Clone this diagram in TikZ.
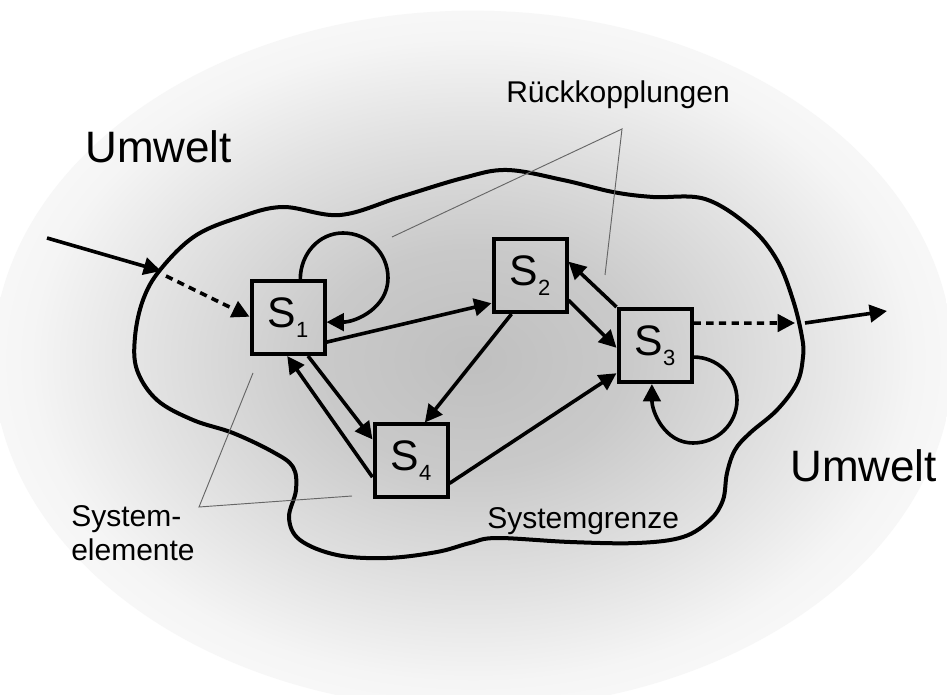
\documentclass[tikz,border=0pt]{standalone}
\usepackage{fontspec}
\setmainfont{Liberation Sans}
\usetikzlibrary{arrows.meta,calc}
\pgfdeclareradialshading{bgshade}{\pgfpoint{0bp}{0bp}}{color(0bp)=(black!25); color(8bp)=(black!21); color(17bp)=(black!11); color(23bp)=(black!4); color(25bp)=(black!3); color(50bp)=(white)}
\newcommand\Sx[1]{{\fontsize{32pt}{32pt}\selectfont S}\raisebox{-7.5pt}{\fontsize{16.5pt}{16.5pt}\selectfont #1}}
\begin{document}
\begin{tikzpicture}[x=0.75pt,y=-0.75pt,
  sbox/.style={draw, line width=3pt, minimum size=54.75pt, inner sep=0pt},
  conn/.style={line width=2.7pt, -{Triangle[length=13pt,width=13pt]}},
  dconn/.style={conn, dash pattern=on 5.5pt off 4pt},
  boundary/.style={line width=3pt},
  note/.style={line width=0.7pt, black!60},
  bigtxt/.style={font=\fontsize{33pt}{33pt}\selectfont, anchor=base west, inner sep=0pt},
  smalltxt/.style={font=\fontsize{22.5pt}{27pt}\selectfont, anchor=base west, inner sep=0pt}]
\useasboundingbox (0,0) rectangle (947,695);
\fill[white] (0,0) rectangle (947,695);
\begin{scope}
\clip (0,0) rectangle (947,695);
\shade[shading=bgshade] (473,360) ellipse [x radius=360pt, y radius=262pt];
\end{scope}

% system boundary
\draw[boundary] plot[smooth cycle, tension=0.6] coordinates {
(160,270) (195,236) (240,217) (283,207) (340,215) (400,197) (463,178) (507,170)
(563,180) (613,192) (653,197) (705,199) (750,227) (777,260) (793,300) (802,337)
(803,357) (797,383) (777,410) (750,433) (735,450) (727,473) (723,500) (710,520)
(683,537) (637,543) (570,542) (497,538) (470,543) (437,552) (387,558) (337,555)
(300,540) (289,518) (296,490) (293,467) (273,452) (233,433) (193,420) (157,400)
(137,370) (135,337) (143,300)};

% elements
\node[sbox] (s1) at (288,317.5) {\Sx{1}};
\node[sbox] (s2) at (530,275.5) {\Sx{2}};
\node[sbox] (s3) at (655,345.5) {\Sx{3}};
\node[sbox] (s4) at (411,461) {\Sx{4}};

% annotation lines
\coordinate (rkA) at (622,129);
\coordinate (rk1) at (392,237);
\coordinate (rk2) at (605,275);
\draw[note] (rk1) -- (rkA) -- (rk2);
\coordinate (seA) at (199,507);
\coordinate (se1) at (253,373);
\coordinate (se2) at (352,496);
\draw[note] (se1) -- (seA) -- (se2);

% texts
\node[bigtxt] (uw1) at (85,163) {Umwelt};
\node[bigtxt] (uw2) at (790,482) {Umwelt};
\node[smalltxt] (rk) at (506,103) {Rückkopplungen};
\node[smalltxt] (sg) at (487,528) {Systemgrenze};
\node[smalltxt] (se) at (71,527) {System-};
\node[smalltxt] (se3) at (71,560) {elemente};

% input / output
\coordinate (inA) at (47,238);
\coordinate (inB) at (161,271);
\coordinate (inC) at (166,276);
\draw[conn] (inA) -- (inB);
\draw[dconn] (inC) -- ($(s1.north west)!0.49!(s1.south west)$);
\coordinate (outA) at (795,323);
\coordinate (outB) at (805,323);
\coordinate (outC) at (887,311);
\draw[dconn] ($(s3.north east)!0.21!(s3.south east)$) -- (outA);
\draw[conn] (outB) -- (outC);

% connections
\draw[conn] ($(s1.north east)!0.82!(s1.south east)$) -- ($(s2.north west)!0.86!(s2.south west)$);
\draw[conn] ($(s2.south west)!0.26!(s2.south east)$) -- ($(s4.north west)!0.68!(s4.north east)$);
\draw[conn] ($(s4.north east)!0.79!(s4.south east)$) -- ($(s3.north west)!0.86!(s3.south west)$);
\draw[conn] ($(s2.north east)!0.82!(s2.south east)$) -- ($(s3.north west)!0.53!(s3.south west)$);
\draw[conn] (s3.north west) -- ($(s2.north east)!0.32!(s2.south east)$);
\draw[conn] ($(s1.south west)!0.76!(s1.south east)$) -- ($(s4.north west)!0.22!(s4.south west)$);
\draw[conn] ($(s4.north west)!0.71!(s4.south west)$) -- ($(s1.south west)!0.49!(s1.south east)$);

% self loops
\draw[conn] ($(s1.north west)!0.66!(s1.north east)$) to[out=90,in=180] (343,233)
  to[out=0,in=90] (388,278) to[out=-90,in=0] ($(s1.north east)!0.56!(s1.south east)$);
\draw[conn] ($(s3.north east)!0.65!(s3.south east)$) to[out=0,in=90] (737,400)
  to[out=-90,in=0] (693,443) to[out=180,in=-90] ($(s3.south west)!0.46!(s3.south east)$);
\end{tikzpicture}
\end{document}
